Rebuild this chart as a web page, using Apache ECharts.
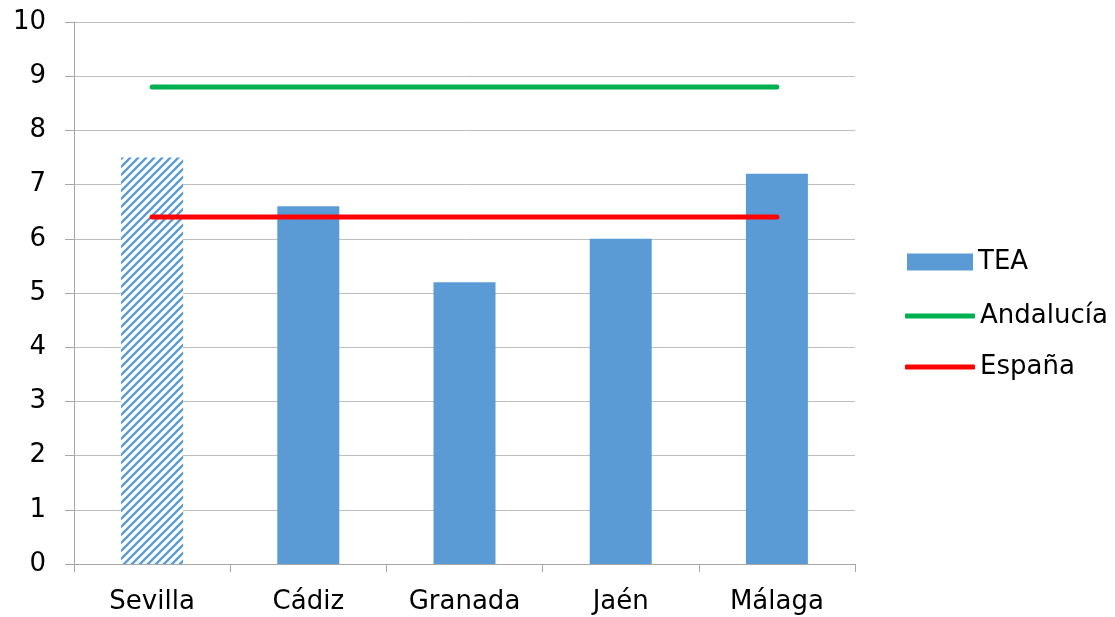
<!DOCTYPE html>
<html><head><meta charset="utf-8">
<script src="https://cdn.jsdelivr.net/npm/echarts@6/dist/echarts.min.js"></script>
<style>html,body{margin:0;padding:0;background:#fff}#c{width:1115px;height:617px}</style>
</head><body><div id="c"></div>
<script>
const categories = ['Sevilla', 'Cádiz', 'Granada', 'Jaén', 'Málaga'];
const teaValues = [7.5, 6.6, 5.2, 6.0, 7.2];
const andaluciaValues = [8.8, 8.8, 8.8, 8.8, 8.8];
const espanaValues = [6.4, 6.4, 6.4, 6.4, 6.4];
const yTicks = [0, 1, 2, 3, 4, 5, 6, 7, 8, 9, 10];

const blue = '#5B9BD5';
function hatch() {
  const c = document.createElement('canvas');
  c.width = 8; c.height = 8;
  const g = c.getContext('2d');
  g.fillStyle = '#fff'; g.fillRect(0, 0, 8, 8);
  g.strokeStyle = blue; g.lineWidth = 2.3;
  g.beginPath();
  g.moveTo(-2, 10); g.lineTo(10, -2);
  g.moveTo(-6, 6); g.lineTo(6, -6);
  g.moveTo(2, 14); g.lineTo(14, 2);
  g.stroke();
  return c;
}
const pattern = { image: hatch(), repeat: 'repeat' };

const chart = echarts.init(document.getElementById('c'), null, { renderer: 'canvas' });
const font = '"DejaVu Sans", sans-serif';
const legendText = { fontFamily: font, fontSize: 26, color: '#000' };
chart.setOption({
  animation: false,
  grid: { left: 74, right: 260, top: 22, bottom: 53 },
  legend: [
    {
      orient: 'vertical', left: 902, top: 244,
      itemWidth: 66, itemHeight: 17, itemGap: 30,
      textStyle: legendText,
      data: [{ name: 'TEA', icon: 'rect' }]
    },
    {
      orient: 'vertical', left: 900, top: 298,
      itemWidth: 70, itemHeight: 5, itemGap: 25,
      textStyle: legendText,
      data: [
        { name: 'Andalucía', icon: 'roundRect' },
        { name: 'España', icon: 'roundRect' }
      ]
    }
  ],
  xAxis: {
    type: 'category', data: categories, boundaryGap: true,
    axisLine: { lineStyle: { color: '#A6A6A6', width: 1 } },
    axisTick: { show: true, length: 8, lineStyle: { color: '#A6A6A6' } },
    axisLabel: { fontFamily: font, fontSize: 26, color: '#000', margin: 25 }
  },
  yAxis: {
    type: 'value', min: 0, max: 10, interval: 1,
    axisLine: { show: true, lineStyle: { color: '#A6A6A6', width: 1 } },
    axisTick: { show: true, length: 9, lineStyle: { color: '#A6A6A6' } },
    axisLabel: { fontFamily: font, fontSize: 26, color: '#000', margin: 28,
      formatter: v => yTicks.includes(v) ? String(v) : '' },
    splitLine: { lineStyle: { color: '#BFBFBF', width: 1 } }
  },
  series: [
    {
      name: 'TEA', type: 'bar', barWidth: 62,
      itemStyle: { color: blue, borderWidth: 0 },
      data: teaValues.map((v, i) => i === 0 ? { value: v, itemStyle: { color: pattern } } : v)
    },
    {
      name: 'Andalucía', type: 'line', data: andaluciaValues, symbol: 'none',
      lineStyle: { color: '#00B050', width: 5, cap: 'round' }, itemStyle: { color: '#00B050' }
    },
    {
      name: 'España', type: 'line', data: espanaValues, symbol: 'none',
      lineStyle: { color: '#FF0000', width: 5, cap: 'round' }, itemStyle: { color: '#FF0000' }
    }
  ]
});
</script></body></html>
